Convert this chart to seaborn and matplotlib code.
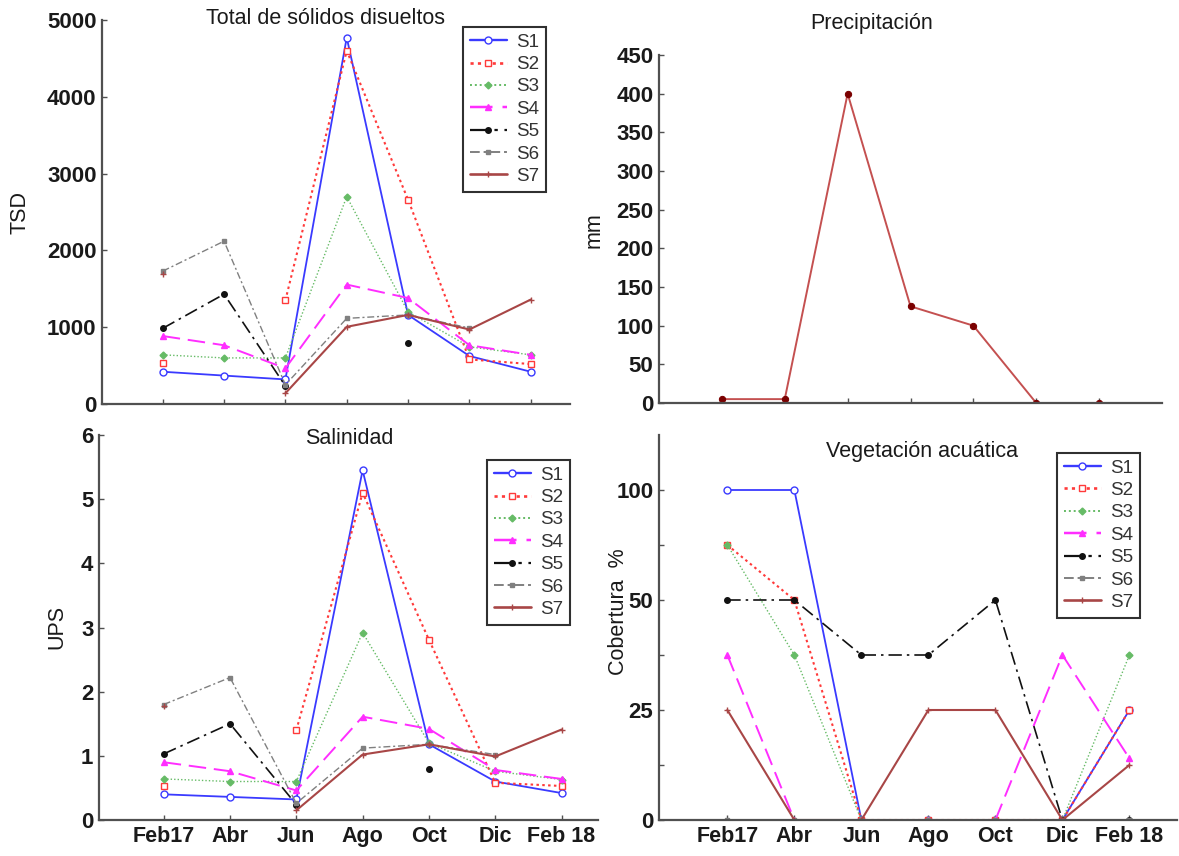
import numpy as np
import pandas as pd
import matplotlib
matplotlib.use("Agg")
import matplotlib.pyplot as plt
from matplotlib.lines import Line2D
import seaborn as sns

# ---------------- data ----------------
months = ["Feb17", "Abr", "Jun", "Ago", "Oct", "Dic", "Feb 18"]
stations = ["S1", "S2", "S3", "S4", "S5", "S6", "S7"]
nan = np.nan

tsd_s1 = [420, 370, 320, 4770, 1160, 625, 420]
tsd_s2 = [530, nan, 1350, 4600, 2660, 580, 520]
tsd_s3 = [640, 600, 600, 2700, 1200, 745, 640]
tsd_s4 = [885, 765, 465, 1555, 1380, 765, 640]
tsd_s5 = [985, 1430, 235, nan, 790, nan, nan]
tsd_s6 = [1730, 2120, 250, 1115, 1160, 990, nan]
tsd_s7 = [1690, nan, 140, 1005, 1160, 970, 1360]

sal_s1 = [0.40, 0.36, 0.32, 5.45, 1.18, 0.60, 0.42]
sal_s2 = [0.53, nan, 1.40, 5.10, 2.81, 0.58, 0.53]
sal_s3 = [0.64, 0.60, 0.60, 2.92, 1.20, 0.76, 0.63]
sal_s4 = [0.90, 0.76, 0.46, 1.61, 1.42, 0.78, 0.64]
sal_s5 = [1.03, 1.50, 0.24, nan, 0.80, nan, nan]
sal_s6 = [1.80, 2.22, 0.26, 1.12, 1.18, 1.02, nan]
sal_s7 = [1.78, nan, 0.15, 1.02, 1.18, 0.99, 1.41]

precip_mm = [5, 5, 400, 125, 100, 0, 0]

veg_s1 = [100, 100, 0, 0, 0, 0, 25]
veg_s2 = [75, 50, 0, 0, 0, 0, 25]
veg_s3 = [75, 37.5, 0, 0, 0, 0, 37.5]
veg_s4 = [37.5, 0, 0, 0, 0, 37.5, 14]
veg_s5 = [50, 50, 37.5, 37.5, 50, 0, 0]
veg_s6 = [0, 0, 0, 0, 0, 0, 0]
veg_s7 = [25, 0, 0, 25, 25, 0, 12.5]

veg_ticks = [0, 12.5, 25, 37.5, 50, 75, 100]
veg_ticklabels = ["0", "", "25", "", "50", "", "100"]

tsd = [tsd_s1, tsd_s2, tsd_s3, tsd_s4, tsd_s5, tsd_s6, tsd_s7]
sal = [sal_s1, sal_s2, sal_s3, sal_s4, sal_s5, sal_s6, sal_s7]
veg = [veg_s1, veg_s2, veg_s3, veg_s4, veg_s5, veg_s6, veg_s7]

# ---------------- styles ----------------
sns.set_theme(style="white")
plt.rcParams["font.family"] = ["Liberation Sans", "DejaVu Sans"]

STY = {
    "S1": dict(color="#3a3aff", linestyle="-", marker="o", mfc="white", ms=5, lw=1.3),
    "S2": dict(color="#ff3a3a", linestyle=(0, (1.2, 1.6)), marker="s", mfc="white", ms=5, lw=1.5),
    "S3": dict(color="#66bb66", linestyle=(0, (1, 1.5)), marker="D", mfc="#66bb66", ms=3.5, lw=1.0),
    "S4": dict(color="#ff2eff", linestyle=(0, (9, 4)), marker="^", mfc="#ff2eff", ms=4.5, lw=1.4),
    "S5": dict(color="#111111", linestyle=(0, (8, 3, 1.5, 3)), marker="o", mfc="#111111", ms=4, lw=1.2),
    "S6": dict(color="#808080", linestyle=(0, (5, 2, 1.5, 2)), marker="s", mfc="#808080", ms=3, lw=1.0),
    "S7": dict(color="#a84646", linestyle="-", marker="+", mfc="#a84646", ms=5, lw=1.5),
}
SPINE = "#505050"
W, H = 1179, 856


def px_axes(fig, left, right, top, bottom):
    return fig.add_axes([left / W, 1 - bottom / H, (right - left) / W, (bottom - top) / H])


def draw_series(ax, y, st):
    y = np.asarray(y, float)
    x = np.arange(len(y))
    ok = ~np.isnan(y)
    seg = np.cumsum(~ok)
    df = pd.DataFrame({"x": x[ok], "y": y[ok], "seg": seg[ok]})
    for _, d in df.groupby("seg"):
        sns.lineplot(data=d, x="x", y="y", ax=ax, color=st["color"],
                     linestyle=st["linestyle"], linewidth=st["lw"],
                     marker=st["marker"], markersize=st["ms"],
                     markerfacecolor=st["mfc"], markeredgecolor=st["color"],
                     markeredgewidth=1.0, legend=False, estimator=None, sort=False)


def style_axes(ax, xlim, show_xlabels):
    for s in ["top", "right"]:
        ax.spines[s].set_visible(False)
    for s in ["left", "bottom"]:
        ax.spines[s].set_color(SPINE)
        ax.spines[s].set_linewidth(1.6)
    ax.set_xlim(*xlim)
    ax.set_xticks(np.arange(len(months)))
    if show_xlabels:
        ax.set_xticklabels(months, fontsize=15.5, fontweight="bold", color="#1a1a1a")
    else:
        ax.set_xticklabels([])
    ax.tick_params(axis="both", direction="in", length=3.5, width=1.0, color=SPINE,
                   bottom=True, left=True, pad=4)
    ax.tick_params(axis="y", labelsize=16)
    for t in ax.get_yticklabels():
        t.set_fontweight("bold")
        t.set_color("#1a1a1a")
    ax.set_xlabel("")
    ax.set_ylabel("")
    ax.grid(False)


def add_legend(fig, ax, left, top):
    handles = []
    for s in stations:
        st = STY[s]
        handles.append(Line2D([0], [0], color=st["color"], linestyle=st["linestyle"],
                              linewidth=st["lw"] + 0.4, marker=st["marker"], markersize=st["ms"],
                              markerfacecolor=st["mfc"], markeredgecolor=st["color"]))
    leg = ax.legend(handles, stations, loc="upper left",
                    bbox_to_anchor=(left / W, 1 - top / H), bbox_transform=fig.transFigure,
                    fontsize=13.5, frameon=True, fancybox=False, framealpha=1,
                    edgecolor="#303030", handlelength=2.0, handletextpad=0.5,
                    labelspacing=0.28, borderpad=0.35, borderaxespad=0)
    leg.get_frame().set_linewidth(1.5)
    for t in leg.get_texts():
        t.set_color("#333333")


fig = plt.figure(figsize=(W / 100, H / 100), dpi=100)
fig.patch.set_facecolor("white")

# ---- Top-left: TSD ----
ax1 = px_axes(fig, 102, 570, 20, 404)
for s, y in zip(stations, tsd):
    draw_series(ax1, y, STY[s])
ax1.set_ylim(0, 5000)
ax1.set_yticks(np.arange(0, 5001, 1000))
style_axes(ax1, (-0.99, 6.64), False)
add_legend(fig, ax1, 463, 27)
fig.text(325 / W, 1 - 18 / H, "Total de sólidos disueltos", ha="center", va="center",
         fontsize=15.5, color="#1a1a1a")
fig.text(20 / W, 1 - 212 / H, "TSD", rotation=90, ha="center", va="center",
         fontsize=15.5, color="#1a1a1a")

# ---- Bottom-left: Salinidad ----
ax2 = px_axes(fig, 99, 598, 435, 820)
for s, y in zip(stations, sal):
    draw_series(ax2, y, STY[s])
ax2.set_ylim(0, 6)
ax2.set_yticks(np.arange(0, 7, 1))
style_axes(ax2, (-0.976, 6.55), True)
add_legend(fig, ax2, 487, 460)
fig.text(349 / W, 1 - 438 / H, "Salinidad", ha="center", va="center",
         fontsize=15.5, color="#1a1a1a")
fig.text(57 / W, 1 - 627 / H, "UPS", rotation=90, ha="center", va="center",
         fontsize=15.5, color="#1a1a1a")

# ---- Top-right: Precipitación ----
ax3 = px_axes(fig, 659, 1162, 55, 403)
sns.lineplot(x=np.arange(len(precip_mm)), y=precip_mm, ax=ax3, color="#c45050",
             linewidth=1.4, marker="o", markersize=4.5, markerfacecolor="#7a0000",
             markeredgecolor="#7a0000", legend=False)
ax3.set_ylim(0, 450)
ax3.set_yticks(np.arange(0, 451, 50))
style_axes(ax3, (-1.0, 7.0), False)
fig.text(872 / W, 1 - 24 / H, "Precipitación", ha="center", va="center",
         fontsize=15.5, color="#1a1a1a")
fig.text(594 / W, 1 - 230 / H, "mm", rotation=90, ha="center", va="center",
         fontsize=15.5, color="#1a1a1a")

# ---- Bottom-right: Vegetación acuática ----
ax4 = px_axes(fig, 659, 1177, 435, 820)


def _fwd(v):
    v = np.asarray(v, float)
    return np.where(v <= 50, v, 50 + (v - 50) / 2)


def _inv(p):
    p = np.asarray(p, float)
    return np.where(p <= 50, p, 50 + (p - 50) * 2)


ax4.set_yscale("function", functions=(_fwd, _inv))
for s, y in zip(stations, veg):
    draw_series(ax4, y, STY[s])
ax4.set_yscale("function", functions=(_fwd, _inv))
ax4.set_ylim(0, 125)
ax4.set_yticks(veg_ticks)
ax4.set_yticklabels(veg_ticklabels)
ax4.yaxis.set_minor_locator(matplotlib.ticker.NullLocator())
style_axes(ax4, (-1.02, 6.71), True)
add_legend(fig, ax4, 1057, 453)
fig.text(922 / W, 1 - 452 / H, "Vegetación acuática", ha="center", va="center",
         fontsize=15.5, color="#1a1a1a")
fig.text(618 / W, 1 - 612 / H, "Cobertura  %", rotation=90, ha="center", va="center",
         fontsize=15.5, color="#1a1a1a")

fig.savefig("out.png", dpi=100, facecolor="white")
